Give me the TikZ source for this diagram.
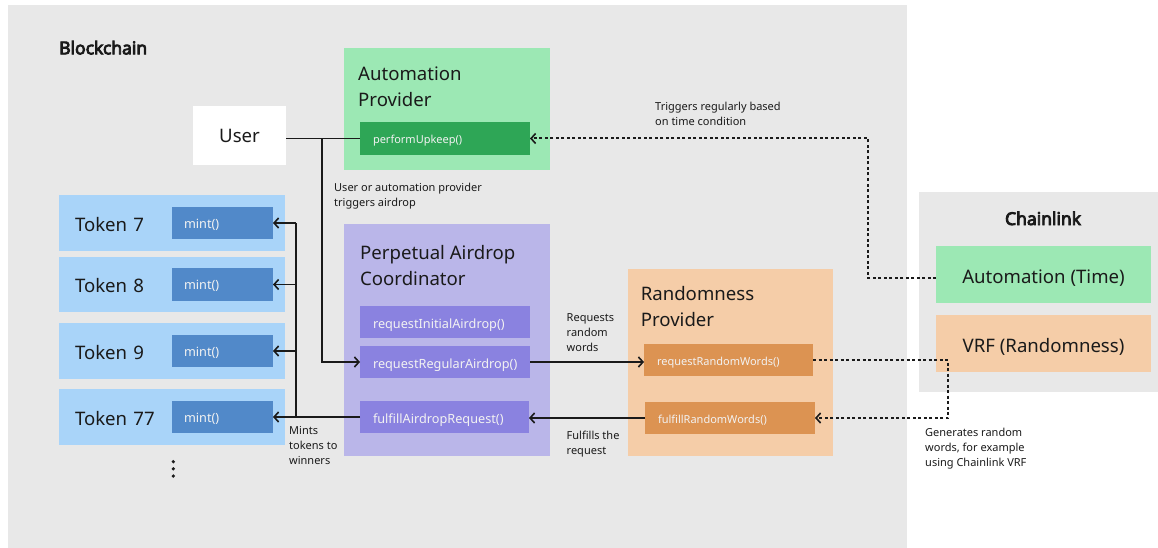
\documentclass[tikz,border=0pt]{standalone}
\usepackage{fontspec}
\setmainfont{Noto Sans}
\newfontfamily\headfont{Open Sans}[AutoFakeBold=5]
\usetikzlibrary{arrows.meta}
\definecolor{bg}{HTML}{E8E8E8}
\definecolor{lgreen}{HTML}{9CE8B4}
\definecolor{dgreen}{HTML}{2EA656}
\definecolor{lblue}{HTML}{A9D4F9}
\definecolor{dblue}{HTML}{5189C9}
\definecolor{lpurple}{HTML}{BAB6E9}
\definecolor{dpurple}{HTML}{8A82E0}
\definecolor{lorange}{HTML}{F5CDA8}
\definecolor{dorange}{HTML}{DC9352}
\definecolor{txt}{HTML}{1A1A1A}
\definecolor{mtxt}{HTML}{F2F2F2}
\definecolor{lin}{HTML}{1A1A1A}
\tikzset{
  rect/.style={anchor=north west, inner sep=0pt, outer sep=0pt},
  bigfont/.style={font=\fontsize{18.6}{26}\selectfont, text=txt},
  meth/.style={rect, inner xsep=13pt, align=left, text=mtxt, text depth=0pt},
  methS/.style={meth, font=\fontsize{11}{13}\selectfont, text height=10.4pt},
  methL/.style={meth, font=\fontsize{12.7}{15}\selectfont, text height=12.4pt},
  ttl/.style={anchor=north west, align=left, inner sep=0pt, bigfont},
  note/.style={anchor=north west, align=left, inner sep=0pt, font=\fontsize{11}{15}\selectfont, text=txt},
  token/.style={rect, fill=lblue, minimum width=226pt, inner xsep=16pt, text width=194pt, align=left, bigfont, text height=16pt, text depth=0pt},
  mintbox/.style={methL, fill=dblue, inner xsep=12pt, text width=77pt, text height=10.6pt},
  conn/.style={line width=1.6pt, draw=lin},
  dotline/.style={line width=2pt, draw=lin, dash pattern=on 3pt off 2.5pt},
  tip/.style={-{Straight Barb[length=4.5pt,width=10pt]}},
  dtip/.style={-{Straight Barb[length=4.5pt,width=10pt,line width=1.6pt]}},
  heading/.style={inner sep=0pt, font=\headfont\fontsize{17.6}{22}\selectfont\bfseries, text=txt}
}
\begin{document}
\begin{tikzpicture}[x=1pt,y=-1pt]
\useasboundingbox (0,0) rectangle (1158,548);
% backgrounds
\node[rect, fill=bg, minimum width=899pt, minimum height=543pt] (bc) at (8,5) {};
\node[rect, fill=bg, minimum width=239pt, minimum height=200pt] (cl) at (919,192) {};
\node[heading, anchor=base west] (bct) at (59,54.3) {Blockchain};
\node[heading, anchor=base] (clt) at (1043,225) {Chainlink};
% user
\node[rect, fill=white, minimum width=93pt, minimum height=59pt, bigfont, text height=14.4pt, text depth=0pt] (user) at (193,106) {User};
% automation provider
\node[rect, fill=lgreen, minimum width=206pt, minimum height=122pt] (ap) at (344,48) {};
\node[ttl] (apt) at (358,61.8) {\strut Automation\\\strut Provider};
\node[methS, fill=dgreen, text width=144pt, minimum height=33pt] (pu) at (360,122) {performUpkeep()};
% coordinator
\node[rect, fill=lpurple, minimum width=206pt, minimum height=232pt] (pac) at (344,224) {};
\node[ttl] (pact) at (360,241.1) {\strut Perpetual Airdrop\\\strut Coordinator};
\node[methL, fill=dpurple, text width=144pt, minimum height=32pt] (ria) at (360,306) {requestInitialAirdrop()};
\node[methL, fill=dpurple, text width=144pt, minimum height=32pt] (rra) at (360,346) {requestRegularAirdrop()};
\node[methL, fill=dpurple, text width=143pt, minimum height=32pt] (far) at (360,401) {fulfillAirdropRequest()};
% randomness provider
\node[rect, fill=lorange, minimum width=205pt, minimum height=187pt] (rp) at (628,269) {};
\node[ttl] (rpt) at (640.6,282.5) {\strut Randomness\\\strut Provider};
\node[methS, fill=dorange, text width=143pt, minimum height=32pt] (rrw) at (644,344) {requestRandomWords()};
\node[methS, fill=dorange, text width=144pt, minimum height=32pt] (frw) at (645,402) {fulfillRandomWords()};
% chainlink services
\node[rect, fill=lgreen, minimum width=215pt, minimum height=57pt, bigfont, text height=18.6pt, text depth=0pt] (at) at (936,246) {Automation (Time)};
\node[rect, fill=lorange, minimum width=215pt, minimum height=57pt, bigfont, text height=18.6pt, text depth=0pt] (vrf) at (936,315) {VRF (Randomness)};
% tokens
\node[token, minimum height=56pt] (t7) at (59,195) {Token 7};
\node[token, minimum height=55pt] (t8) at (59,257) {Token 8};
\node[token, minimum height=56pt] (t9) at (59,323) {Token 9};
\node[token, minimum height=56pt] (t77) at (59,389) {Token 77};
\node[mintbox, minimum height=32pt] (m7) at (172,207) {mint()};
\node[mintbox, minimum height=33pt] (m8) at (172,268) {mint()};
\node[mintbox, minimum height=32pt] (m9) at (172,335) {mint()};
\node[mintbox, minimum height=32pt] (m77) at (172,401) {mint()};
\fill[lin] (173.3,461.7) circle (1.8) (173.3,468.8) circle (1.8) (173.3,476) circle (1.8);
% connectors
\coordinate (ju) at (322,138.5);
\coordinate (jt) at (296,223);
\coordinate (dv) at (948,390);
\coordinate (da) at (868,278);
\draw[conn] (user.east |- pu.west) -- (pu.west);
\draw[conn, tip] (ju) |- (rra.west);
\draw[conn] (jt) -- (jt |- far.west);
\draw[conn, tip] (far.west) -- (far.west -| m77.east);
\draw[conn, tip] (jt) -- (m7.east);
\draw[conn, tip] (jt |- m8.east) -- (m8.east);
\draw[conn, tip] (jt |- m9.east) -- (m9.east);
\draw[conn, tip] (rra.east) -- (rra.east -| rrw.west);
\draw[conn, tip] (frw.west) -- (frw.west -| far.east);
\draw[dotline, dtip] (rrw.east) -- (rrw.east -| dv) -- (dv |- frw.east) -- (frw.east);
\draw[dotline, dtip] (at.west |- da) -- (da) |- (pu.east);
% notes
\node[note] (n1) at (334,180.5) {\strut User or automation provider\\\strut triggers airdrop};
\node[note] (n2) at (655,99.5) {\strut Triggers regularly based\\\strut on time condition};
\node[note] (n3) at (566.5,310.5) {\strut Requests\\\strut random\\\strut words};
\node[note] (n4) at (566.5,428.8) {\strut Fulfills the\\\strut request};
\node[note] (n5) at (289,423.5) {\strut Mints\\\strut tokens to\\\strut winners};
\node[note] (n6) at (925,426.2) {\strut Generates random\\\strut words, for example\\\strut using Chainlink VRF};
\end{tikzpicture}
\end{document}
